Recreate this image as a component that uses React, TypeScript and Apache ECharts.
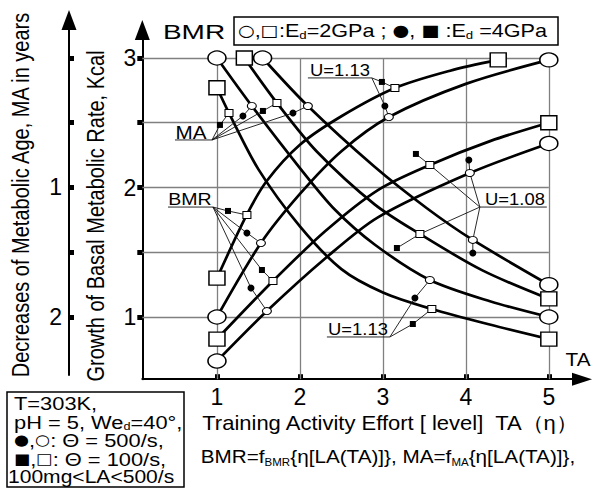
import React, { useEffect, useRef } from "react";
import * as echarts from "echarts";

const FONT = '"Liberation Sans", Arial, "DejaVu Sans", sans-serif';
const SYM = '"DejaVu Sans", "Liberation Sans", sans-serif';

// ---- axes ----
const xTicks = [1, 2, 3, 4, 5];
const bmrTicks = [1, 1.5, 2, 2.5, 3];
const bmrLabels = [1, 2, 3];
const maTicks = [0, 0.5, 1, 1.5, 2];
const maLabels = [1, 2];
const xRange = [0.1, 5.4];
const bmrRange = [0.52, 3.216];
const maRange = [-0.2934, 2.448];

// ---- grid lines ----
const gridY = [1, 1.5, 2, 2.5, 3];
const gridX = [1, 2, 3, 4, 5];

// ---- curves (TA, BMR-scale value) ----
const curveI1 = [[1, 1.3], [1.36, 1.79], [1.6, 2.05], [2, 2.33], [2.5, 2.55], [3.145, 2.768], [3.8, 2.9], [4.39, 2.985]];
const curveI2 = [[1, 1.0], [1.53, 1.571], [2, 1.95], [2.5, 2.28], [3.072, 2.544], [4, 2.8], [5, 2.985]];
const curveI3 = [[1, 0.83], [1.675, 1.278], [2.3, 1.66], [2.94, 1.98], [3.566, 2.174], [4.3, 2.36], [5, 2.5]];
const curveI4 = [[1, 0.66], [1.602, 1.046], [2.3, 1.45], [2.94, 1.77], [4.048, 2.112], [5, 2.34]];
const curveDa = [[1.55, 3], [2.096, 2.629], [2.9, 2.16], [3.53, 1.84], [4.084, 1.595], [5, 1.25]];
const curveDb = [[1.33, 3], [1.723, 2.653], [2.2, 2.28], [2.9, 1.87], [3.446, 1.641], [4.2, 1.36], [5, 1.14]];
const curveDc = [[1, 3], [1.42, 2.63], [2, 2.15], [2.42, 1.83], [2.9, 1.56], [3.566, 1.286], [4.3, 1.12], [5, 1.0]];
const curveDd = [[1, 2.77], [1.145, 2.575], [1.5, 2.14], [2, 1.7], [2.5, 1.37], [3, 1.19], [3.59, 1.062], [4.3, 0.94], [5, 0.83]];

const curves = [
  { pts: curveI1, shape: "rect" },
  { pts: curveI2, shape: "circle" },
  { pts: curveI3, shape: "rect" },
  { pts: curveI4, shape: "circle" },
  { pts: curveDa, shape: "circle" },
  { pts: curveDb, shape: "rect" },
  { pts: curveDc, shape: "circle" },
  { pts: curveDd, shape: "rect" },
];

// ---- annotation points ----
const maAnchor = [0.94, 2.367];
const maUnder = [[0.494, 2.367], [0.94, 2.367]];
const maBlackSq = [[1.036, 2.483], [1.554, 2.591]];
const maBlackCi = [[1.313, 2.552], [1.916, 2.575]];
const maWhiteSq = [[1.145, 2.575], [1.723, 2.653]];
const maWhiteCi = [[1.42, 2.63], [2.096, 2.629]];

const bmrAnchor = [0.952, 1.849];
const bmrUnder = [[0.41, 1.849], [0.952, 1.849]];
const bmrBlackSq = [[1.133, 1.819], [1.542, 1.363]];
const bmrBlackCi = [[1.361, 1.649], [1.41, 1.224]];
const bmrWhiteSq = [[1.361, 1.788], [1.675, 1.278]];
const bmrWhiteCi = [[1.53, 1.571], [1.602, 1.046]];

const u113tAnchor = [2.867, 2.846];
const u113tUnder = [[2.096, 2.846], [2.867, 2.846]];
const u113tBlackSq = [[2.988, 2.815]];
const u113tBlackCi = [[3.024, 2.629]];
const u113tWhiteSq = [[3.145, 2.768]];
const u113tWhiteCi = [[3.072, 2.544]];

const u108Anchor = [4.169, 1.849];
const u108Under = [[4.169, 1.849], [4.976, 1.849]];
const u108WhiteSq = [[3.566, 2.174], [3.446, 1.641]];
const u108BlackSq = [[3.398, 2.259], [3.169, 1.533]];
const u108WhiteCi = [[4.048, 2.112], [4.084, 1.595]];
const u108BlackCi = [[4.036, 2.212], [4.084, 1.494]];

const u113bAnchor = [3.084, 0.846];
const u113bUnder = [[2.325, 0.846], [3.084, 0.846]];
const u113bBlackCi = [[3.386, 1.147]];
const u113bBlackSq = [[3.361, 0.946]];
const u113bWhiteCi = [[3.566, 1.286]];
const u113bWhiteSq = [[3.59, 1.062]];

function leaders(anchor: number[], firsts: number[][], seconds: number[][]) {
  return firsts.map((f, i) => ({ coords: [anchor, f, seconds[i]] }));
}

function txt(text: string, x: number, y: number, size: number, o: any = {}) {
  return {
    type: "text",
    x,
    y,
    rotation: o.rot || 0,
    scaleX: o.sx || 1,
    scaleY: o.sy || 1,
    z: 50,
    style: {
      text,
      fontSize: size,
      fontFamily: FONT,
      fill: "#000",
      align: o.align || "center",
      verticalAlign: "middle",
      textAlign: o.align || "center",
      textVerticalAlign: "middle",
      lineHeight: o.lh || size + 2,
      rich: o.rich,
    },
  };
}

const richSet = (sub: number, sym: number, lh: number) => ({
  s: { fontSize: sub, fontFamily: FONT, fill: "#000", verticalAlign: "bottom", lineHeight: sub },
  g: { fontSize: sym, fontFamily: SYM, fill: "#000", lineHeight: lh },
});

function buildOption() {
  const axisFont = { fontSize: 23, fontFamily: FONT, color: "#000" };
  const endCircles: number[][] = [];
  const endSquares: number[][] = [];
  curves.forEach((c) => {
    const e = [c.pts[0], c.pts[c.pts.length - 1]];
    if (c.shape === "circle") endCircles.push(...e);
    else endSquares.push(...e);
  });
  const gridLines = [
    ...gridY.map((y) => ({ coords: [[xRange[0], y], [gridX[gridX.length - 1], y]] })),
    ...gridX.map((x) => ({ coords: [[x, bmrRange[0]], [x, gridY[gridY.length - 1]]] })),
  ];
  const leaderData = [
    { coords: maUnder }, { coords: bmrUnder }, { coords: u113tUnder }, { coords: u108Under }, { coords: u113bUnder },
    ...leaders(maAnchor, [...maBlackSq, ...maBlackCi], [...maWhiteSq, ...maWhiteCi]),
    ...leaders(bmrAnchor, [...bmrBlackSq, ...bmrBlackCi], [...bmrWhiteSq, ...bmrWhiteCi]),
    ...leaders(u113tAnchor, [...u113tBlackSq, ...u113tBlackCi], [...u113tWhiteSq, ...u113tWhiteCi]),
    ...leaders(u108Anchor, [...u108WhiteSq, ...u108WhiteCi], [...u108BlackSq, ...u108BlackCi]),
    ...leaders(u113bAnchor, [...u113bBlackCi, ...u113bBlackSq], [...u113bWhiteCi, ...u113bWhiteSq]),
  ];
  const whiteSmallSq = [...maWhiteSq, ...bmrWhiteSq, ...u113tWhiteSq, ...u108WhiteSq, ...u113bWhiteSq];
  const whiteSmallCi = [...maWhiteCi, ...bmrWhiteCi, ...u113tWhiteCi, ...u108WhiteCi, ...u113bWhiteCi];
  const blackSq = [...maBlackSq, ...bmrBlackSq, ...u113tBlackSq, ...u108BlackSq, ...u113bBlackSq];
  const blackCi = [...maBlackCi, ...bmrBlackCi, ...u113tBlackCi, ...u108BlackCi, ...u113bBlackCi];

  const ax = { xAxisIndex: 0, yAxisIndex: 0 };
  return {
    animation: false,
    backgroundColor: "#fff",
    grid: [
      { left: 142.3, right: 594 - 582, top: 30, bottom: 488 - 379.2, containLabel: false, outerBoundsMode: "none" },
      { left: 69, width: 10, top: 20, bottom: 113, containLabel: false, outerBoundsMode: "none" },
    ],
    xAxis: [
      {
        gridIndex: 0, type: "value", min: xRange[0], max: xRange[1],
        axisLine: { show: true, onZero: false, symbol: ["none", "triangle"], symbolSize: [13, 20], lineStyle: { color: "#000", width: 2 } },
        axisTick: { show: true, inside: true, length: 5, customValues: xTicks, lineStyle: { color: "#000", width: 5 } },
        axisLabel: { show: true, customValues: xTicks, margin: 6, ...axisFont },
        splitLine: { show: false },
      },
      { gridIndex: 1, type: "value", min: 0, max: 1, show: false },
    ],
    yAxis: [
      {
        gridIndex: 0, type: "value", min: bmrRange[0], max: bmrRange[1],
        axisLine: { show: true, onZero: false, symbol: ["none", "triangle"], symbolSize: [15, 20], lineStyle: { color: "#000", width: 2 } },
        axisTick: { show: true, inside: false, length: 5, customValues: bmrTicks, lineStyle: { color: "#000", width: 5 } },
        axisLabel: { show: true, customValues: bmrLabels, margin: 6, ...axisFont },
        splitLine: { show: false },
      },
      {
        gridIndex: 1, type: "value", inverse: true, min: maRange[0], max: maRange[1], position: "left",
        axisLine: { show: true, onZero: false, symbol: ["none", "triangle"], symbolSize: [15, 20], lineStyle: { color: "#000", width: 2 } },
        axisTick: { show: true, inside: true, length: 5, customValues: maTicks, lineStyle: { color: "#000", width: 5 } },
        axisLabel: { show: true, customValues: maLabels, margin: 7, ...axisFont },
        splitLine: { show: false },
      },
    ],
    series: [
      {
        type: "lines", coordinateSystem: "cartesian2d", ...ax, polyline: false, silent: true, z: 1,
        lineStyle: { color: "#808080", width: 1.3, opacity: 1 },
        data: gridLines,
      },
      ...curves.map((c) => ({
        type: "line", ...ax, data: c.pts, smooth: 0.3, symbol: "none", silent: true, z: 3,
        lineStyle: { color: "#000", width: 2.7 },
      })),
      {
        type: "lines", coordinateSystem: "cartesian2d", ...ax, polyline: true, silent: true, z: 4,
        lineStyle: { color: "#111", width: 0.9, opacity: 1 },
        data: leaderData,
      },
      {
        type: "scatter", ...ax, data: endCircles, symbol: "circle", symbolSize: [18, 14], z: 6, silent: true,
        itemStyle: { color: "#fff", borderColor: "#000", borderWidth: 1.4, opacity: 1 },
      },
      {
        type: "scatter", ...ax, data: endSquares, symbol: "rect", symbolSize: [16, 14], z: 6, silent: true,
        itemStyle: { color: "#fff", borderColor: "#000", borderWidth: 1.4, opacity: 1 },
      },
      {
        type: "scatter", ...ax, data: whiteSmallCi, symbol: "circle", symbolSize: [9, 7], z: 6, silent: true,
        itemStyle: { color: "#fff", borderColor: "#000", borderWidth: 1, opacity: 1 },
      },
      {
        type: "scatter", ...ax, data: whiteSmallSq, symbol: "rect", symbolSize: [8, 7], z: 6, silent: true,
        itemStyle: { color: "#fff", borderColor: "#000", borderWidth: 1, opacity: 1 },
      },
      {
        type: "scatter", ...ax, data: blackCi, symbol: "circle", symbolSize: [7, 7], z: 6, silent: true,
        itemStyle: { color: "#000", opacity: 1 },
      },
      {
        type: "scatter", ...ax, data: blackSq, symbol: "rect", symbolSize: [6, 6], z: 6, silent: true,
        itemStyle: { color: "#000", opacity: 1 },
      },
    ],
    graphic: {
      elements: [
        txt("Decreases of Metabolic Age, MA in years", 21, 195, 20, { rot: Math.PI / 2, sy: 1.15 }),
        txt("Growth of Basal Metabolic Rate, Kcal", 96, 216, 20, { rot: Math.PI / 2, sy: 1.15 }),
        txt("BMR", 194, 32, 20, { sx: 1.4 }),
        { type: "rect", shape: { x: 234, y: 17, width: 324, height: 28 }, style: { fill: "none", stroke: "#000", lineWidth: 1.5 }, z: 50 },
        txt("{g|○},{g|□}:E{s|d}=2GPa ; {g|●}, {g|■} :E{s|d} =4GPa", 238, 31, 18, { align: "left", sx: 1.2, lh: 20, rich: richSet(11, 16, 20) }),
        txt("TA", 578, 360, 18, { sx: 1.15 }),
        txt("Training Activity Effort [ level]  TA（η）", 390, 423, 20, { sx: 1.1 }),
        txt("BMR=f{s|BMR}{η[LA(TA)]}, MA=f{s|MA}{η[LA(TA)]},", 388, 457, 18, { sx: 1.15, lh: 20, rich: richSet(10, 16, 20) }),
        { type: "rect", shape: { x: 7, y: 392, width: 177, height: 95 }, style: { fill: "none", stroke: "#000", lineWidth: 1.5 }, z: 50 },
        txt("T=303K,", 14, 403, 19, { align: "left", sx: 1.15 }),
        txt("pH = 5, We{s|d}=40°,", 14, 422, 19, { align: "left", sx: 1.15, lh: 20, rich: richSet(11, 16, 20) }),
        txt("{g|●},{g|○}: Θ = 500/s,", 14, 440, 19, { align: "left", sx: 1.15, lh: 20, rich: richSet(11, 15, 20) }),
        txt("{g|■},{g|□}: Θ = 100/s,", 14, 459, 19, { align: "left", sx: 1.15, lh: 20, rich: richSet(11, 15, 20) }),
        txt("100mg<LA<500/s", 8, 477, 18, { align: "left", sx: 1.17 }),
        txt("MA", 191, 133, 18, { sx: 1.15 }),
        txt("BMR", 190, 199, 17, { sx: 1.15 }),
        txt("U=1.13", 340, 70, 16, { sx: 1.15 }),
        txt("U=1.08", 515, 199, 16, { sx: 1.15 }),
        txt("U=1.13", 358, 329, 16, { sx: 1.15 }),
      ],
    },
  };
}

export default function App() {
  const ref = useRef<HTMLDivElement>(null);
  useEffect(() => {
    if (!ref.current) return;
    const chart = echarts.init(ref.current, null, { renderer: "svg", width: 594, height: 488 });
    chart.setOption(buildOption() as any);
    return () => chart.dispose();
  }, []);
  return (
    <div
      ref={ref}
      style={{ position: "fixed", left: 0, top: 0, width: 594, height: 488, background: "#fff" }}
    />
  );
}
